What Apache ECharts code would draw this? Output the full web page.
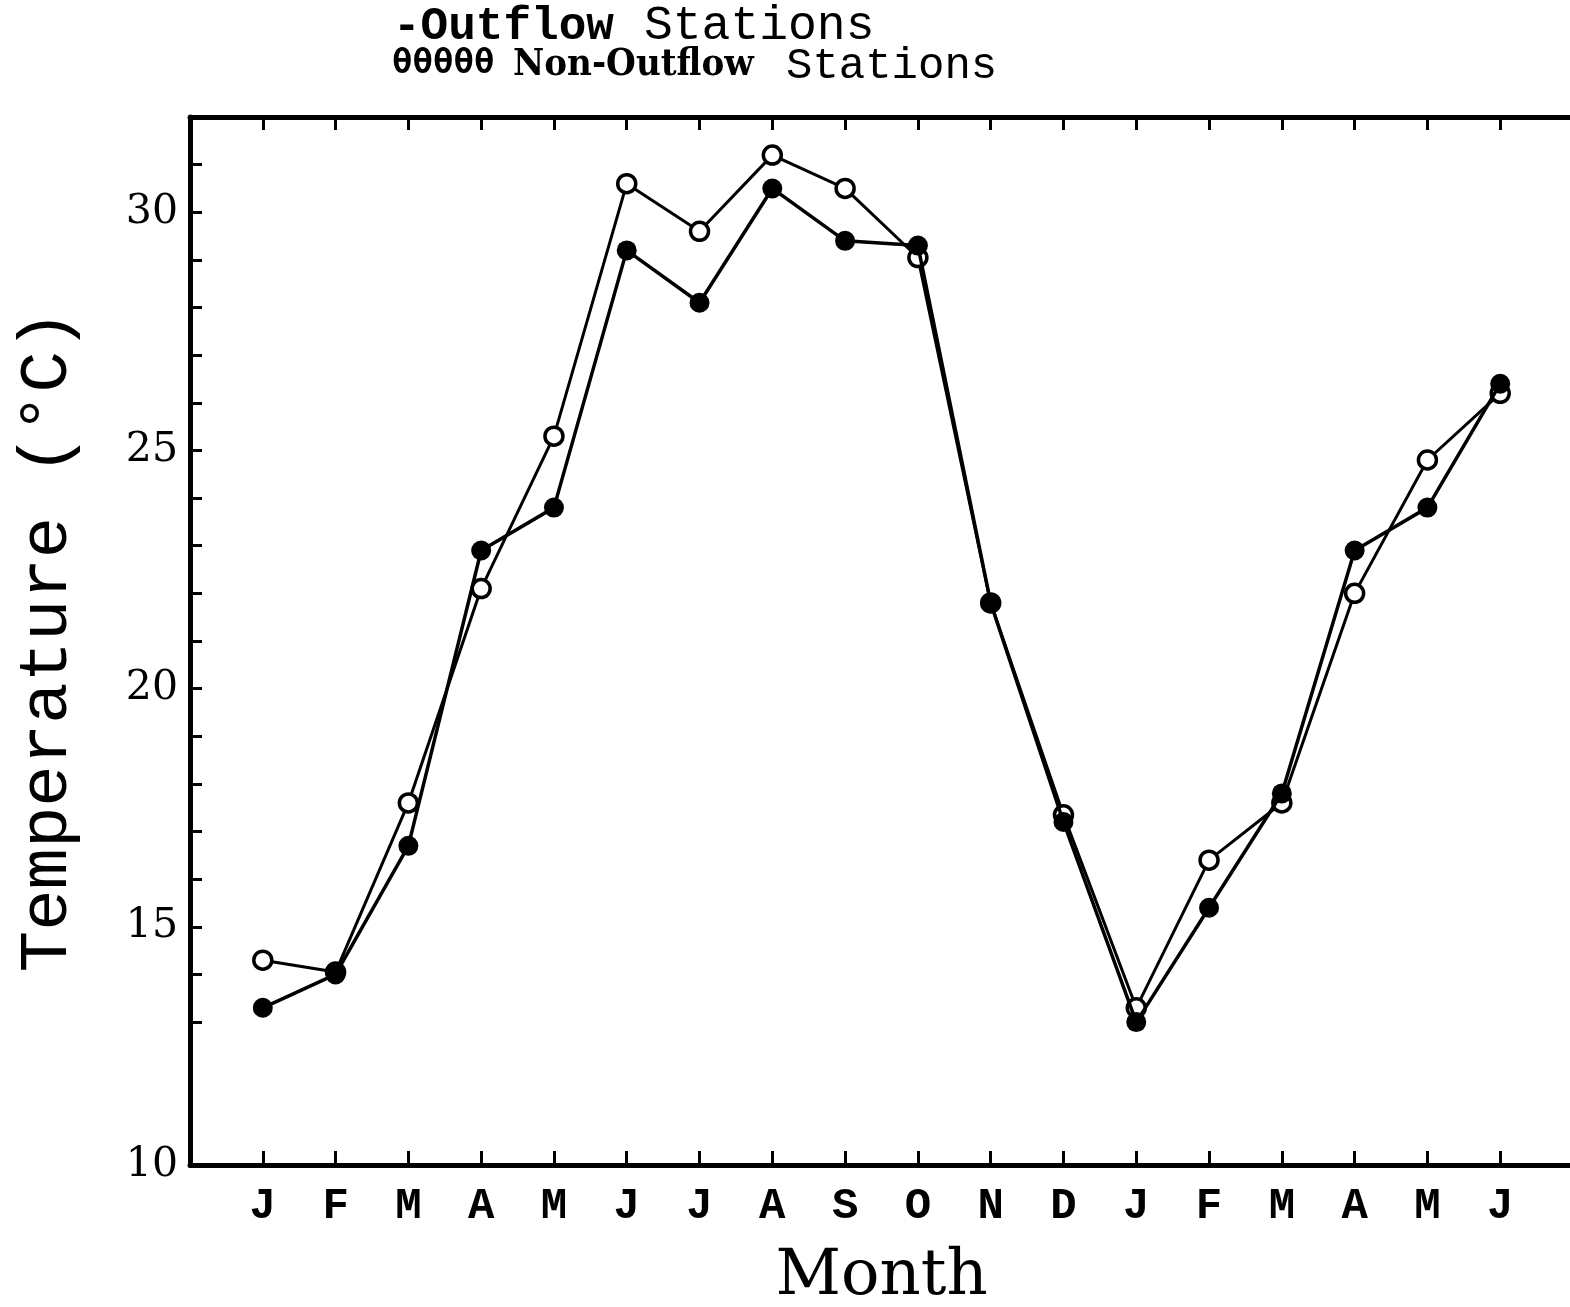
<!DOCTYPE html>
<html>
<head>
<meta charset="utf-8">
<script src="https://cdn.jsdelivr.net/npm/echarts@6/dist/echarts.min.js"></script>
<style>
	html, body { margin: 0; padding: 0; background: #fff; }
	#chart { width: 1570px; height: 1307px; }
</style>
</head>
<body>
<div id="chart"></div>
<script>
	// months, Jan of year 1 through June of year 2
	var months = ['J', 'F', 'M', 'A', 'M', 'J', 'J', 'A', 'S', 'O', 'N', 'D', 'J', 'F', 'M', 'A', 'M', 'J'];
	// outflow stations (filled dots)
	var outflow = [13.3, 14.0, 16.7, 22.9, 23.8, 29.2, 28.1, 30.5, 29.4, 29.3, 21.8, 17.2, 13.0, 15.4, 17.8, 22.9, 23.8, 26.4];
	// non-outflow stations (open dots)
	var nonOutflow = [14.3, 14.05, 17.6, 22.1, 25.3, 30.6, 29.6, 31.2, 30.5, 29.05, 21.8, 17.35, 13.3, 16.4, 17.6, 22.0, 24.8, 26.2];
	var yLabels = [10, 15, 20, 25, 30];
	var yTicks = [13, 14, 15, 16, 17, 18, 19, 20, 21, 22, 23, 24, 25, 26, 27, 28, 29, 30, 31];
	var xTicks = [1, 2, 3, 4, 5, 6, 7, 8, 9, 10, 11, 12, 13, 14, 15, 16, 17, 18];

	var myChart = echarts.init(document.getElementById('chart'));

	function toPairs(arr) {
		return arr.map(function (v, i) { return [i + 1, v]; });
	}

	var black = '#000';

	myChart.setOption({
		animation: false,
		backgroundColor: '#fff',
		grid: {
			left: 190,
			top: 117,
			width: 1383,
			height: 1048,
			containLabel: false,
			outerBoundsMode: 'none'
		},
		// legend lines, written as plain text like the original
		graphic: [{
			type: 'text', left: 393, top: 4,
			style: { text: '-Outflow', fontFamily: 'Liberation Mono', fontWeight: 'bold', fontSize: 46, fill: black }
		}, {
			type: 'text', left: 644, top: 2,
			style: { text: 'Stations', fontFamily: 'Liberation Mono', fontSize: 48, fill: black }
		}, {
			type: 'text', left: 392, top: 47,
			style: { text: 'θθθθθ', fontFamily: 'DejaVu Sans Mono', fontWeight: 'bold', fontSize: 34, fill: black }
		}, {
			type: 'text', left: 513, top: 46,
			style: { text: 'Non-Outflow', fontFamily: 'DejaVu Serif Condensed, DejaVu Serif', fontWeight: 'bold', fontSize: 38, fill: black }
		}, {
			type: 'text', left: 786, top: 44,
			style: { text: 'Stations', fontFamily: 'Liberation Mono', fontSize: 44, fill: black }
		}],
		xAxis: [{
			type: 'value',
			min: 0,
			max: 19,
			position: 'bottom',
			name: 'Month',
			nameLocation: 'middle',
			nameGap: 80,
			nameMoveOverlap: false,
			nameTextStyle: { fontFamily: 'DejaVu Serif', fontSize: 64, color: black },
			axisLine: { show: true, onZero: false, lineStyle: { color: black, width: 5 } },
			axisTick: { show: true, inside: true, length: 14, customValues: xTicks, lineStyle: { color: black, width: 3 } },
			axisLabel: {
				customValues: xTicks,
				margin: 20,
				fontFamily: 'Liberation Mono',
				fontWeight: 'bold',
				fontSize: 44,
				color: black,
				formatter: function (v) { return months[v - 1] || ''; }
			},
			splitLine: { show: false }
		}, {
			type: 'value',
			min: 0,
			max: 19,
			position: 'top',
			axisLine: { show: true, onZero: false, lineStyle: { color: black, width: 5 } },
			axisTick: { show: true, inside: true, length: 13, customValues: xTicks, lineStyle: { color: black, width: 3 } },
			axisLabel: { show: false },
			splitLine: { show: false }
		}],
		yAxis: {
			type: 'value',
			min: 10,
			max: 32,
			name: 'Temperature (°C)',
			nameLocation: 'middle',
			nameGap: 108,
			nameMoveOverlap: false,
			nameTextStyle: { fontFamily: 'Liberation Mono', fontSize: 69, color: black },
			axisLine: { show: true, onZero: false, lineStyle: { color: black, width: 5 } },
			axisTick: { show: true, inside: true, length: 12, customValues: yTicks, lineStyle: { color: black, width: 3 } },
			axisLabel: {
				customValues: yLabels,
				margin: 12,
				fontFamily: 'DejaVu Serif',
				fontSize: 41,
				color: black
			},
			splitLine: { show: false }
		},
		series: [{
			name: 'Non-Outflow',
			type: 'line',
			data: toPairs(nonOutflow),
			symbol: 'circle',
			symbolSize: 18,
			lineStyle: { color: black, width: 3 },
			itemStyle: { color: '#fff', borderColor: black, borderWidth: 3.5 },
			z: 3
		}, {
			name: 'Outflow',
			type: 'line',
			data: toPairs(outflow),
			symbol: 'circle',
			symbolSize: 20,
			lineStyle: { color: black, width: 3.5 },
			itemStyle: { color: black, borderColor: black, borderWidth: 0 },
			z: 4
		}]
	});
</script>
</body>
</html>
